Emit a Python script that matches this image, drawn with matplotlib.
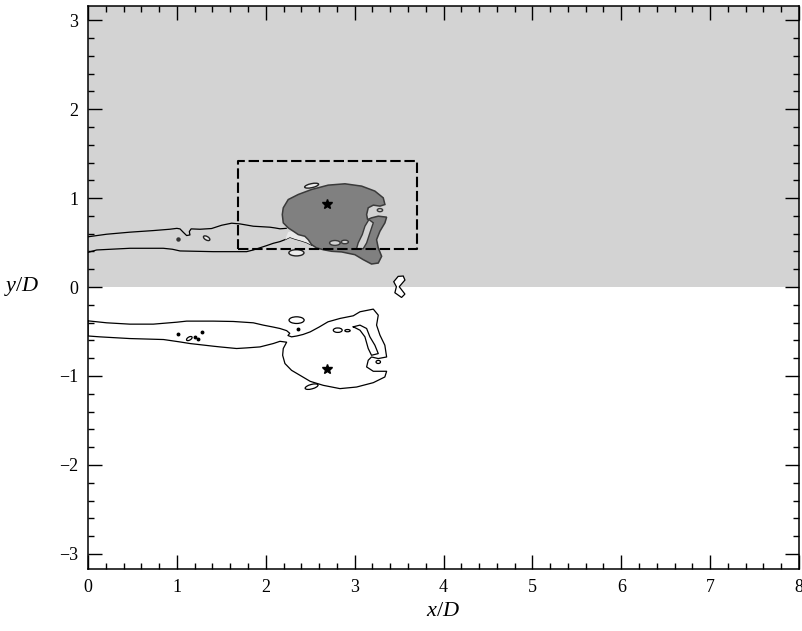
import numpy as np
import matplotlib
matplotlib.use("Agg")
import matplotlib.pyplot as plt
from matplotlib.patches import Ellipse
from matplotlib.ticker import MultipleLocator

# ---------------- data (x/D, y/D) ----------------
# upper half: wake boundary, upper edge
wake_up_top_x = [0.0, 0.21, 0.47, 0.735, 0.92, 1.0, 1.035, 1.072, 1.11, 1.147, 1.14, 1.16,
                 1.26, 1.39, 1.504, 1.616, 1.71, 1.86, 2.047, 2.103, 2.16, 2.23]
wake_up_top_y = [0.565, 0.594, 0.617, 0.635, 0.65, 0.66, 0.654, 0.616, 0.579, 0.586, 0.624, 0.654,
                 0.65, 0.658, 0.695, 0.718, 0.71, 0.684, 0.673, 0.665, 0.655, 0.66]
# upper half: wake boundary, lower edge
wake_up_bot_x = [0.0, 0.098, 0.472, 0.847, 0.95, 1.035, 1.41, 1.785, 1.86, 2.01, 2.085,
                 2.16, 2.216, 2.272, 2.33, 2.40, 2.46, 2.52]
wake_up_bot_y = [0.39, 0.417, 0.436, 0.436, 0.425, 0.406, 0.398, 0.398, 0.417, 0.466, 0.492,
                 0.511, 0.533, 0.56, 0.54, 0.52, 0.50, 0.47]

# upper half: vortex core region
core_x = [2.186, 2.197, 2.253, 2.366, 2.516, 2.703, 2.891, 3.079, 3.228, 3.322, 3.341, 3.285,
          3.21, 3.153, 3.135, 3.146, 3.19, 3.266, 3.36, 3.341, 3.285, 3.247, 3.266, 3.304,
          3.266, 3.19, 3.097, 3.003, 2.853, 2.741, 2.647, 2.572, 2.516, 2.478, 2.44, 2.366,
          2.31, 2.253, 2.197]
core_y = [0.815, 0.891, 0.984, 1.041, 1.097, 1.146, 1.161, 1.135, 1.079, 1.003, 0.928, 0.91,
          0.921, 0.891, 0.815, 0.759, 0.778, 0.797, 0.786, 0.722, 0.628, 0.533, 0.44, 0.346,
          0.27, 0.259, 0.308, 0.364, 0.395, 0.402, 0.42, 0.44, 0.477, 0.533, 0.571, 0.59,
          0.628, 0.665, 0.722]
gap_x = [3.161, 3.21, 3.172, 3.135, 3.097, 3.022, 3.04, 3.086, 3.116]
gap_y = [0.759, 0.722, 0.609, 0.496, 0.432, 0.432, 0.496, 0.59, 0.684]
pale_x = [2.216, 2.272, 2.33, 2.40, 2.46, 2.52, 2.478, 2.44, 2.366, 2.31, 2.253]
pale_y = [0.533, 0.56, 0.54, 0.52, 0.50, 0.47, 0.533, 0.571, 0.59, 0.628, 0.62]

# holes inside the core region: centre x, centre y, width, height, angle
core_holes_x = [2.778, 2.89, 3.285]
core_holes_y = [0.496, 0.507, 0.865]
core_holes_w = [0.12, 0.08, 0.06]
core_holes_h = [0.055, 0.04, 0.035]
core_holes_a = [0, 0, 0]

# small closed contours, upper half
isl_up_x = [2.516, 2.345, 1.335]
isl_up_y = [1.14, 0.385, 0.549]
isl_up_w = [0.16, 0.17, 0.08]
isl_up_h = [0.045, 0.07, 0.04]
isl_up_a = [12, 0, -30]
dots_up_x = [1.009]
dots_up_y = [0.541]

# figure-eight contour crossing the centreline
eight_x = [3.547, 3.566, 3.502, 3.566, 3.528, 3.453, 3.47, 3.44, 3.49]
eight_y = [0.124, 0.079, 0.004, -0.079, -0.117, -0.064, 0.004, 0.06, 0.12]

# lower half: outer contour of wake and core
wake_lo_x = [0.0, 0.21, 0.47, 0.735, 1.0, 1.11, 1.41, 1.635, 1.86, 1.972, 2.085, 2.16, 2.235,
             2.27, 2.25, 2.29, 2.35, 2.42, 2.5, 2.6, 2.70, 2.835, 2.985, 3.06, 3.21, 3.266,
             3.247, 3.285, 3.34, 3.36, 3.266, 3.19, 3.153, 3.135, 3.21, 3.36, 3.34, 3.21,
             3.022, 2.835, 2.647, 2.5, 2.385, 2.29, 2.216, 2.19, 2.197, 2.235, 2.16, 2.085,
             1.935, 1.785, 1.672, 1.485, 1.41, 1.147, 1.035, 0.85, 0.47, 0.135, 0.0]
wake_lo_y = [-0.38, -0.402, -0.417, -0.417, -0.395, -0.383, -0.383, -0.387, -0.402, -0.428,
             -0.45, -0.466, -0.49, -0.52, -0.545, -0.56, -0.55, -0.533, -0.504, -0.45,
             -0.391, -0.353, -0.323, -0.278, -0.248, -0.316, -0.428, -0.541, -0.654, -0.786,
             -0.804, -0.786, -0.823, -0.898, -0.947, -0.947, -1.011, -1.075, -1.124, -1.142,
             -1.105, -1.06, -0.992, -0.936, -0.86, -0.767, -0.691, -0.62, -0.61, -0.635,
             -0.673, -0.684, -0.691, -0.673, -0.665, -0.635, -0.617, -0.59, -0.579, -0.56,
             -0.55]
finger_lo_x = [2.985, 3.06, 3.135, 3.172, 3.228, 3.266, 3.19, 3.153, 3.116, 3.06]
finger_lo_y = [-0.447, -0.428, -0.466, -0.56, -0.654, -0.748, -0.767, -0.691, -0.56, -0.485]

# small closed contours, lower half
isl_lo_x = [2.347, 2.81, 2.92, 3.266, 2.516, 1.14]
isl_lo_y = [-0.372, -0.485, -0.49, -0.842, -1.12, -0.579]
isl_lo_w = [0.17, 0.10, 0.06, 0.05, 0.15, 0.07]
isl_lo_h = [0.075, 0.05, 0.025, 0.035, 0.05, 0.035]
isl_lo_a = [0, 0, 0, 0, 15, 30]
dots_lo_x = [1.009, 2.36, 1.2, 1.237, 1.28]
dots_lo_y = [-0.53, -0.47, -0.56, -0.579, -0.505]

# vortex centres
star_x = [2.69, 2.69]
star_y = [0.932, -0.921]

# interrogation window
box_x = [1.69, 3.70, 3.70, 1.69, 1.69]
box_y = [0.425, 0.425, 1.42, 1.42, 0.425]

x_lim = (0, 8)
y_lim = (-3.17, 3.16)

# ---------------- drawing ----------------
plt.rcParams['font.family'] = ['Liberation Serif', 'DejaVu Serif']
plt.rcParams['mathtext.fontset'] = 'custom'
plt.rcParams['mathtext.it'] = 'Liberation Serif:italic'
plt.rcParams['mathtext.rm'] = 'Liberation Serif'

fig = plt.figure(figsize=(8.02, 6.31), dpi=100)
ax = fig.add_axes([88 / 802, 1 - 569 / 631, 711 / 802, 563 / 631])

bg = '#d3d3d3'
ax.axhspan(0, y_lim[1], color=bg, zorder=0, lw=0)

def closed(xs, ys):
    return np.r_[xs, xs[0]], np.r_[ys, ys[0]]

lw_c = 0.9
# wake edges (upper half)
ax.plot(wake_up_top_x, wake_up_top_y, color='black', lw=lw_c, zorder=2)
ax.plot(wake_up_bot_x, wake_up_bot_y, color='black', lw=lw_c, zorder=2)
ax.fill(pale_x, pale_y, color='#e9e9e9', lw=0, zorder=2)

# core region
ax.fill(core_x, core_y, facecolor='#808080', edgecolor='#3a3a3a', lw=1.1, zorder=3)
ax.fill(gap_x, gap_y, facecolor=bg, edgecolor='#3a3a3a', lw=1.0, zorder=3)
for cx, cy, w, h, a in zip(core_holes_x, core_holes_y, core_holes_w, core_holes_h, core_holes_a):
    ax.add_patch(Ellipse((cx, cy), w, h, angle=a, facecolor=bg, edgecolor='#3a3a3a',
                         lw=1.0, zorder=4))
for cx, cy, w, h, a in zip(isl_up_x, isl_up_y, isl_up_w, isl_up_h, isl_up_a):
    ax.add_patch(Ellipse((cx, cy), w, h, angle=a, facecolor='#ececec', edgecolor='#222222',
                         lw=1.0, zorder=4))
ax.plot(dots_up_x, dots_up_y, 'o', ms=2.2, color='#333333', zorder=4)

# figure-eight contour
ex, ey = closed(eight_x, eight_y)
ax.fill(ex, ey, facecolor='white', edgecolor='black', lw=lw_c, zorder=4)

# lower half
lx, ly = closed(wake_lo_x, wake_lo_y)
ax.plot(lx, ly, color='black', lw=lw_c, zorder=2)
fx, fy = closed(finger_lo_x, finger_lo_y)
ax.plot(fx, fy, color='black', lw=lw_c, zorder=2)
for cx, cy, w, h, a in zip(isl_lo_x, isl_lo_y, isl_lo_w, isl_lo_h, isl_lo_a):
    ax.add_patch(Ellipse((cx, cy), w, h, angle=a, facecolor='none', edgecolor='black',
                         lw=lw_c, zorder=2))
ax.plot(dots_lo_x, dots_lo_y, 'o', ms=1.8, color='black', zorder=2)

# vortex centres
ax.plot(star_x, star_y, '*', ms=7, color='black', zorder=6)

# window
ax.plot(box_x, box_y, color='black', lw=1.5, ls=(0, (5, 1.8)), zorder=5)

ax.set_xlim(*x_lim)
ax.set_ylim(*y_lim)

ax.xaxis.set_major_locator(MultipleLocator(1))
ax.xaxis.set_minor_locator(MultipleLocator(0.2))
ax.yaxis.set_major_locator(MultipleLocator(1))
ax.yaxis.set_minor_locator(MultipleLocator(0.2))
ax.tick_params(which='both', direction='in', top=True, right=True, width=1.0, colors='black')
ax.tick_params(which='major', length=10, labelsize=13, pad=7)
ax.tick_params(which='minor', length=4.5)
for s in ax.spines.values():
    s.set_linewidth(1.1)

ax.text(0.5, -0.076, r'$x/D$', transform=ax.transAxes, ha='center', va='center', fontsize=16)
ax.text(-0.093, 0.501, r'$y/D$', transform=ax.transAxes, ha='center', va='center', fontsize=16)

fig.savefig('out.png', dpi=100)
